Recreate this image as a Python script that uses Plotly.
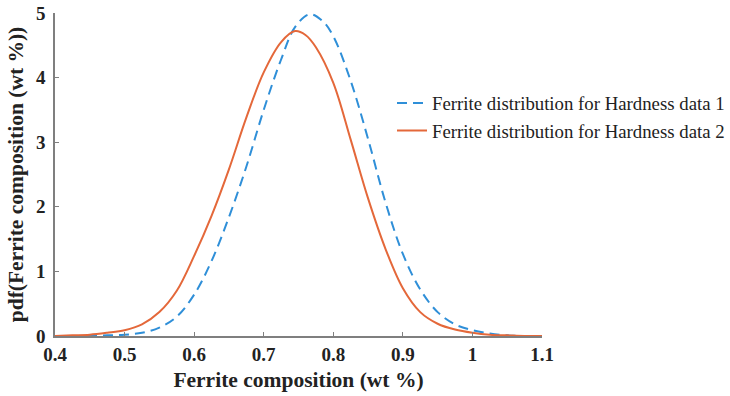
import plotly.graph_objects as go

# Ferrite composition (wt %) vs. probability density for the two fitted distributions
comp_data1 = [0.400, 0.425, 0.450, 0.475, 0.500, 0.525, 0.550, 0.575, 0.600, 0.625,
              0.650, 0.675, 0.700, 0.725, 0.745, 0.766, 0.785, 0.800, 0.825, 0.850,
              0.875, 0.900, 0.925, 0.950, 0.975, 1.000, 1.025, 1.050, 1.075, 1.100]
pdf_data1 = [0.00, 0.00, 0.00, 0.01, 0.02, 0.05, 0.13, 0.30, 0.64, 1.16,
             1.84, 2.62, 3.50, 4.28, 4.78, 4.98, 4.87, 4.64, 3.95, 3.05,
             2.07, 1.27, 0.72, 0.37, 0.18, 0.09, 0.04, 0.01, 0.00, 0.00]

comp_data2 = [0.400, 0.425, 0.450, 0.475, 0.500, 0.525, 0.550, 0.575, 0.600, 0.625,
              0.650, 0.675, 0.700, 0.725, 0.745, 0.760, 0.775, 0.800, 0.825, 0.850,
              0.875, 0.900, 0.925, 0.950, 0.975, 1.000, 1.025, 1.050, 1.075, 1.100]
pdf_data2 = [0.00, 0.01, 0.02, 0.05, 0.09, 0.18, 0.37, 0.70, 1.24, 1.86,
             2.58, 3.38, 4.08, 4.55, 4.72, 4.66, 4.47, 3.92, 3.04, 2.13,
             1.35, 0.74, 0.37, 0.19, 0.10, 0.05, 0.02, 0.01, 0.00, 0.00]

series_names = ["Ferrite distribution for Hardness data 1",
                "Ferrite distribution for Hardness data 2"]

x_ticks = [0.4, 0.5, 0.6, 0.7, 0.8, 0.9, 1.0, 1.1]
x_tick_text = ["0.4", "0.5", "0.6", "0.7", "0.8", "0.9", "1", "1.1"]
y_ticks = [0, 1, 2, 3, 4, 5]

BLUE = "#2F8FD8"
ORANGE = "#E4683A"
AXIS = "#7f7f7f"
TEXT = "#222222"
SERIF = "Liberation Serif"

fig = go.Figure()
fig.add_trace(go.Scatter(
    x=comp_data1, y=pdf_data1, mode="lines", name=series_names[0],
    line=dict(color=BLUE, width=2, dash="10px,6px", shape="spline", smoothing=1.0),
))
fig.add_trace(go.Scatter(
    x=comp_data2, y=pdf_data2, mode="lines", name=series_names[1],
    line=dict(color=ORANGE, width=2, shape="spline", smoothing=1.0),
))

fig.update_layout(
    width=730, height=396,
    margin=dict(l=55, r=188, t=13, b=60, autoexpand=False),
    paper_bgcolor="white", plot_bgcolor="white",
    font=dict(family=SERIF, color=TEXT),
    showlegend=True,
    legend=dict(
        xref="container", yref="container",
        x=0.537, y=0.787, xanchor="left", yanchor="top",
        font=dict(family=SERIF, size=18.8, color=TEXT),
        bgcolor="rgba(0,0,0,0)", itemwidth=30, tracegroupgap=0,
    ),
)

fig.update_xaxes(
    range=[0.4, 1.1], tickvals=x_ticks, ticktext=x_tick_text,
    automargin=False,
    showgrid=False, zeroline=False,
    showline=True, linecolor=AXIS, linewidth=1.5,
    ticks="inside", ticklen=4, tickcolor=AXIS, tickwidth=1,
    tickfont=dict(family=SERIF, size=19, color=TEXT, weight="bold"),
    title=dict(text="Ferrite composition (wt %)",
               font=dict(family=SERIF, size=21.5, color=TEXT, weight="bold"),
               standoff=8),
)
fig.update_yaxes(
    range=[0, 5], tickvals=y_ticks,
    automargin=False,
    showgrid=False, zeroline=False,
    showline=True, linecolor=AXIS, linewidth=1.5,
    ticks="inside", ticklen=4, tickcolor=AXIS, tickwidth=1,
    tickfont=dict(family=SERIF, size=19, color=TEXT, weight="bold"),
    ticklabelstandoff=4,
    title=dict(text="pdf(Ferrite composition (wt %))",
               font=dict(family=SERIF, size=21.5, color=TEXT, weight="bold"),
               standoff=6),
)

fig.write_html("out.html")
